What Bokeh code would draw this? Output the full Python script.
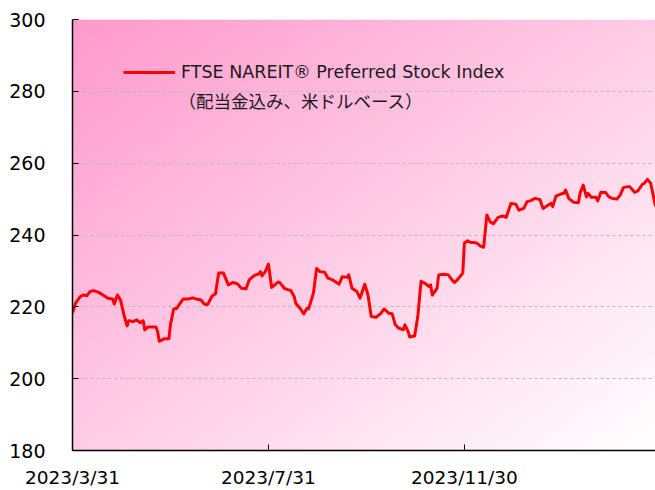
import numpy as np
import pandas as pd
from bokeh.plotting import figure
from bokeh.models import (Range1d, FixedTicker, CustomJSTickFormatter, Legend,
                          LegendItem, Label)
from bokeh.embed import file_html
from bokeh.resources import INLINE

# ---- data ----
dates = [
    "2023-03-31", "2023-04-02", "2023-04-05", "2023-04-07", "2023-04-09", "2023-04-11",
    "2023-04-13", "2023-04-16", "2023-04-19", "2023-04-22", "2023-04-25", "2023-04-26",
    "2023-04-28", "2023-04-30", "2023-05-02", "2023-05-04", "2023-05-05", "2023-05-08",
    "2023-05-10", "2023-05-12", "2023-05-14", "2023-05-15", "2023-05-17", "2023-05-22",
    "2023-05-23", "2023-05-24", "2023-05-27", "2023-05-30", "2023-05-31", "2023-06-02",
    "2023-06-04", "2023-06-06", "2023-06-08", "2023-06-11", "2023-06-14", "2023-06-16",
    "2023-06-19", "2023-06-21", "2023-06-23", "2023-06-26", "2023-06-28", "2023-06-30",
    "2023-07-03", "2023-07-06", "2023-07-09", "2023-07-12", "2023-07-14", "2023-07-17",
    "2023-07-19", "2023-07-22", "2023-07-25", "2023-07-26", "2023-07-27", "2023-07-29",
    "2023-07-31", "2023-08-02", "2023-08-06", "2023-08-07", "2023-08-10", "2023-08-14",
    "2023-08-16", "2023-08-17", "2023-08-20", "2023-08-22", "2023-08-24", "2023-08-25",
    "2023-08-28", "2023-08-30", "2023-09-01", "2023-09-04", "2023-09-06", "2023-09-09",
    "2023-09-13", "2023-09-15", "2023-09-18", "2023-09-19", "2023-09-21", "2023-09-24",
    "2023-09-26", "2023-09-29", "2023-10-01", "2023-10-03", "2023-10-06", "2023-10-09",
    "2023-10-11", "2023-10-14", "2023-10-16", "2023-10-18", "2023-10-20", "2023-10-23",
    "2023-10-24", "2023-10-26", "2023-10-27", "2023-10-30", "2023-11-01", "2023-11-03",
    "2023-11-06", "2023-11-08", "2023-11-09", "2023-11-10", "2023-11-12", "2023-11-13",
    "2023-11-14", "2023-11-17", "2023-11-20", "2023-11-23", "2023-11-24", "2023-11-26",
    "2023-11-29", "2023-11-30", "2023-12-02", "2023-12-04", "2023-12-06", "2023-12-08",
    "2023-12-10", "2023-12-12", "2023-12-14", "2023-12-16", "2023-12-18", "2023-12-21",
    "2023-12-24", "2023-12-26", "2023-12-29", "2024-01-01", "2024-01-03", "2024-01-06",
    "2024-01-08", "2024-01-10", "2024-01-13", "2024-01-16", "2024-01-18", "2024-01-21",
    "2024-01-23", "2024-01-24", "2024-01-26", "2024-01-29", "2024-01-31", "2024-02-01",
    "2024-02-03", "2024-02-06", "2024-02-09", "2024-02-10", "2024-02-12", "2024-02-14",
    "2024-02-15", "2024-02-17", "2024-02-20", "2024-02-21", "2024-02-23", "2024-02-26",
    "2024-02-28", "2024-03-01", "2024-03-04", "2024-03-06", "2024-03-08", "2024-03-10",
    "2024-03-12", "2024-03-15", "2024-03-17", "2024-03-20", "2024-03-21", "2024-03-23",
    "2024-03-25", "2024-03-26", "2024-03-28",
]
values = [
    218.3, 221.1, 222.9, 223.3, 223.1, 224.3,
    224.5, 224.1, 223.3, 222.4, 222.2, 220.8,
    223.3, 221.8, 217.8, 214.7, 216.1, 215.9,
    216.4, 215.6, 216.1, 213.6, 214.4, 214.4,
    213.1, 210.4, 211.1, 211.1, 215.0, 219.4,
    219.6, 221.0, 222.2, 222.2, 222.5, 222.2,
    221.9, 220.8, 220.6, 223.1, 223.6, 229.4,
    229.4, 226.1, 226.8, 226.3, 225.2, 225.0,
    227.5, 228.7, 229.2, 229.8, 228.6, 229.8,
    231.9, 225.4, 226.9, 226.8, 225.1, 224.5,
    222.9, 221.0, 219.4, 218.0, 219.6, 219.4,
    223.8, 230.7, 229.8, 229.6, 228.0, 227.5,
    226.3, 228.4, 228.2, 228.9, 225.2, 224.3,
    222.4, 226.3, 223.3, 217.3, 217.1, 218.2,
    219.4, 218.2, 218.1, 215.0, 214.1, 213.6,
    215.0, 213.1, 211.6, 211.9, 217.3, 227.1,
    226.4, 225.6, 226.1, 223.3, 224.5, 225.2,
    228.9, 229.1, 228.9, 227.1, 226.8, 227.7,
    229.4, 237.7, 238.4, 237.9, 237.9, 237.7,
    236.9, 236.6, 245.6, 243.7, 243.1, 244.9,
    245.3, 244.9, 248.8, 248.6, 246.9, 247.4,
    249.3, 249.5, 250.2, 249.9, 247.4, 248.3,
    248.8, 247.9, 250.8, 251.4, 251.6, 252.5,
    250.2, 249.1, 249.0, 251.6, 253.9, 250.6,
    251.6, 250.5, 250.5, 249.5, 251.9, 251.8,
    250.6, 250.2, 250.0, 251.1, 253.2, 253.4,
    253.4, 251.9, 252.3, 254.2, 254.4, 255.5,
    254.4, 252.3, 248.0,
]
y_ticks = [180, 200, 220, 240, 260, 280, 300]
y_grid_ticks = [200, 220, 240, 260, 280]
x_tick_dates = ["2023-03-31", "2023-07-31", "2023-11-30"]
series_name = "FTSE NAREIT® Preferred Stock Index"
series_note = "（配当金込み、米ドルベース）"
note_anchor = ("2023-06-05", 277.5)

# ---- figure ----
x = pd.to_datetime(dates)
to_ms = lambda t: pd.Timestamp(t).value / 1e6
x0_ms, x1_ms = to_ms(x[0]), to_ms(x[-1])
y0, y1 = y_ticks[0], y_ticks[-1]

p = figure(width=655, height=490, x_axis_type="datetime",
           output_backend="svg", toolbar_location=None,
           x_range=Range1d(x0_ms, x1_ms), y_range=Range1d(y0, y1),
           min_border_left=72, min_border_right=0,
           min_border_top=19, min_border_bottom=39)
p.outline_line_color = None
p.background_fill_color = "white"
p.border_fill_color = "white"

# gradient background (pink top-left -> white bottom-right)
W, H = 583, 432
u = np.linspace(0, 1, W)[None, :]
wv = np.linspace(1, 0, H)[:, None]  # row 0 is the bottom
t = (u + wv) / 2.0
c0 = np.array([255, 153, 204], dtype=float)
c1 = np.array([255, 255, 255], dtype=float)
rgb = c0[None, None, :] + (c1 - c0)[None, None, :] * t[:, :, None]
img8 = np.empty((H, W, 4), dtype=np.uint8)
img8[:, :, :3] = np.clip(np.round(rgb), 0, 255).astype(np.uint8)
img8[:, :, 3] = 255
img = img8.view(dtype=np.uint32).reshape((H, W))
p.image_rgba(image=[img], x=[x0_ms], y=[y0], dw=[x1_ms - x0_ms], dh=[y1 - y0],
             level="image")

# series
r = p.line(x=x, y=values, line_color="#ff0000", line_width=3, line_join="round")

# axes
font = "DejaVu Sans"
p.xaxis.ticker = FixedTicker(ticks=[to_ms(d) for d in x_tick_dates])
p.xaxis.formatter = CustomJSTickFormatter(code="""
const d = new Date(tick);
return d.getUTCFullYear() + '/' + (d.getUTCMonth() + 1) + '/' + d.getUTCDate();
""")
p.yaxis.ticker = FixedTicker(ticks=y_ticks)
for ax in (p.xaxis, p.yaxis):
    ax.axis_line_color = "black"
    ax.axis_line_width = 1.5
    ax.major_tick_line_color = "black"
    ax.major_tick_in = 6
    ax.major_tick_out = 0
    ax.minor_tick_line_color = None
    ax.major_label_text_font = font
    ax.major_label_text_color = "black"
p.xaxis.major_label_text_font_size = "18.5px"
p.yaxis.major_label_text_font_size = "19px"
p.xaxis.major_label_standoff = 16
p.yaxis.major_label_standoff = 27

p.xgrid.visible = False
p.ygrid.ticker = FixedTicker(ticks=y_grid_ticks)
p.ygrid.grid_line_color = "#b8b8b8"
p.ygrid.grid_line_dash = "3 3"
p.ygrid.grid_line_width = 1

# legend
legend = Legend(items=[LegendItem(label=series_name, renderers=[r])],
                location=(51, 368), padding=0, margin=0, spacing=0,
                glyph_width=52, glyph_height=20, label_height=20,
                label_standoff=6, background_fill_alpha=0,
                border_line_color=None,
                label_text_font=font, label_text_font_size="17.5px",
                label_text_color="#1a1a1a")
p.add_layout(legend, "center")

p.add_layout(Label(x=to_ms(note_anchor[0]), y=note_anchor[1], text=series_note,
                   text_font="Noto Sans CJK JP", text_font_size="17.5px",
                   text_color="#1a1a1a", text_baseline="middle", text_align="left"))

open("out.html", "w").write(file_html(p, INLINE))
